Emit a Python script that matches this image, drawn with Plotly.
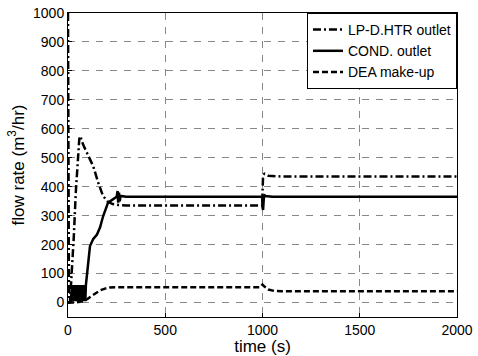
import plotly.graph_objects as go

# ---- data ----
lp_t = [0, 2, 5, 10, 20, 30, 40, 50, 58, 64, 72, 85, 110, 130, 155, 180, 205, 230, 260, 300, 600, 998, 1003, 1010, 1030, 1100, 1500, 2000]
lp_v = [1000, 600, 0, 0, 100, 230, 380, 500, 565, 575, 555, 535, 500, 470, 415, 368, 348, 340, 337, 335, 335, 335, 440, 445, 438, 435, 435, 435]

cond_t = [0, 15, 20, 23, 26, 29, 32, 35, 38, 41, 44, 47, 50, 53, 56, 59, 62, 65, 68, 71, 74, 77, 80, 83, 86, 89,
          92, 100, 113, 130, 149, 165, 180, 206, 231, 250, 255, 258, 262, 266, 270, 300, 600, 998, 1000, 1003, 1008, 1015, 1050, 1500, 2000]
cond_v = [0, 5, 60, 5, 60, 5, 60, 5, 60, 5, 60, 5, 60, 5, 60, 5, 60, 5, 60, 5, 60, 5, 60, 5, 60, 5,
          60, 120, 195, 220, 235, 260, 297, 345, 355, 365, 385, 345, 380, 350, 368, 365, 365, 365, 330, 320, 372, 368, 365, 365, 365]

dea_t = [0, 40, 80, 100, 120, 140, 165, 190, 215, 250, 300, 600, 990, 1000, 1010, 1030, 1060, 1100, 1500, 2000]
dea_v = [0, 0, 5, 12, 22, 32, 42, 48, 52, 53, 53, 53, 53, 62, 55, 45, 40, 39, 39, 39]

names = ["LP-D.HTR outlet", "COND. outlet", "DEA make-up"]
x_ticks = [0, 500, 1000, 1500, 2000]
y_ticks = [0, 100, 200, 300, 400, 500, 600, 700, 800, 900, 1000]

FONT = "Liberation Sans, Arial, sans-serif"

fig = go.Figure()
fig.add_trace(go.Scatter(x=lp_t, y=lp_v, mode="lines", name=names[0],
                         line=dict(color="black", width=2.5, dash="8px,3px,2px,3px")))
fig.add_trace(go.Scatter(x=cond_t, y=cond_v, mode="lines", name=names[1],
                         line=dict(color="black", width=2.5)))
fig.add_trace(go.Scatter(x=dea_t, y=dea_v, mode="lines", name=names[2],
                         line=dict(color="black", width=2.5, dash="6px,3px")))

axis_common = dict(
    showline=True, linecolor="black", linewidth=1, mirror=True,
    showgrid=True, gridcolor="#888888", gridwidth=1, griddash="7px,7px",
    zeroline=False, ticks="inside", ticklen=4, tickcolor="black",
    tickfont=dict(family=FONT, size=14, color="black"),
)

fig.update_xaxes(range=[0, 2000], tickvals=x_ticks,
                 title=dict(text="time (s)", font=dict(family=FONT, size=17, color="black"), standoff=0),
                 **axis_common)
fig.update_yaxes(range=[-50, 1000], tickvals=y_ticks,
                 title=dict(text="flow rate (m<sup>3</sup>/hr)", font=dict(family=FONT, size=17, color="black"), standoff=4),
                 **axis_common)

fig.update_layout(
    width=478, height=356,
    margin=dict(l=68, r=21, t=13, b=39, autoexpand=False),
    paper_bgcolor="white", plot_bgcolor="white",
    font=dict(family=FONT, size=14, color="black"),
    legend=dict(x=1, y=1, xanchor="right", yanchor="top",
                bgcolor="white", bordercolor="black", borderwidth=1,
                font=dict(family=FONT, size=14, color="black"),
                tracegroupgap=0, itemwidth=30),
    showlegend=True,
)

fig.write_html("out.html")
